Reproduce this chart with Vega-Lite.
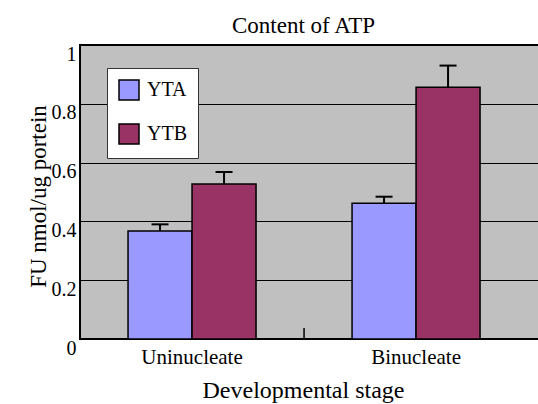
{
  "$schema": "https://vega.github.io/schema/vega-lite/v6.json",
  "width": 459,
  "height": 294,
  "autosize": {"type": "none"},
  "padding": {"left": 80, "top": 45, "right": 0, "bottom": 65},
  "background": "white",
  "title": {"text": "Content of ATP", "font": "Liberation Serif", "fontSize": 23, "fontWeight": "normal", "color": "black", "anchor": "middle", "frame": "group", "baseline": "alphabetic", "offset": 13, "dx": -6, "dy": 25},
  "config": {"view": {"fill": "#C0C0C0", "stroke": "black", "strokeWidth": 2}, "font": "Liberation Serif"},
  "data": {"values": [
    {"stage": "Uninucleate", "strain": "YTA", "value": 0.367, "upper": 0.39},
    {"stage": "Uninucleate", "strain": "YTB", "value": 0.527, "upper": 0.568},
    {"stage": "Binucleate", "strain": "YTA", "value": 0.462, "upper": 0.484},
    {"stage": "Binucleate", "strain": "YTB", "value": 0.856, "upper": 0.93}
  ]},
  "encoding": {
    "x": {"field": "stage", "type": "nominal", "sort": ["Uninucleate", "Binucleate"],
      "scale": {"paddingInner": 0.4286, "paddingOuter": 0.2388, "align": 0.449},
      "axis": {"title": "Developmental stage", "titleFont": "Liberation Serif", "titleFontSize": 24, "titleFontWeight": "normal", "titleColor": "black", "titleX": 223, "titleY": 58, "titleBaseline": "alphabetic", "titleAlign": "center",
        "labelAngle": 0, "labelFont": "Liberation Serif", "labelFontSize": 21, "labelColor": "black", "labelBaseline": "alphabetic", "labelPadding": 24, "ticks": false, "tickSize": 0, "domain": false}}
  },
  "layer": [
    {
      "mark": {"type": "bar", "stroke": "black", "strokeWidth": 1.5},
      "encoding": {
        "xOffset": {"field": "strain", "type": "nominal", "sort": ["YTA", "YTB"], "scale": {"paddingInner": 0, "paddingOuter": 0}},
        "y": {"field": "value", "type": "quantitative", "title": "FU nmol/ug portein", "scale": {"domain": [0, 1], "nice": false},
          "axis": {"values": [0, 0.2, 0.4, 0.6, 0.8, 1], "format": "~g", "ticks": false, "tickSize": 0, "domain": false, "grid": true, "gridColor": "black", "gridWidth": 1, "gridOpacity": 1,
            "labelFont": "Liberation Serif", "labelFontSize": 20, "labelColor": "black", "labelPadding": 4, "labelOffset": 9, "labelBaseline": "middle",
            "titleFont": "Liberation Serif", "titleFontSize": 23, "titleFontWeight": "normal", "titleColor": "black", "titleX": -42, "titleY": 151, "titleAngle": 270, "titleBaseline": "middle", "titleAlign": "center"}},
        "color": {"field": "strain", "type": "nominal", "scale": {"domain": ["YTA", "YTB"], "range": ["#9999FF", "#993366"]},
          "legend": {"orient": "none", "legendX": 27, "legendY": 23, "title": null, "fillColor": "white", "strokeColor": "#333333", "padding": 11, "symbolType": "square", "symbolSize": 400, "symbolStrokeColor": "black", "symbolStrokeWidth": 1.5, "symbolOpacity": 1, "labelFont": "Liberation Serif", "labelFontSize": 20, "labelColor": "black", "labelOffset": 7, "rowPadding": 18}}
      }
    },
    {
      "mark": {"type": "rule", "color": "black", "strokeWidth": 2},
      "encoding": {
        "xOffset": {"field": "strain", "type": "nominal", "sort": ["YTA", "YTB"]},
        "y": {"field": "value", "type": "quantitative", "title": "FU nmol/ug portein"},
        "y2": {"field": "upper"}
      }
    },
    {
      "mark": {"type": "tick", "color": "black", "thickness": 2, "size": 17, "opacity": 1},
      "encoding": {
        "xOffset": {"field": "strain", "type": "nominal", "sort": ["YTA", "YTB"]},
        "y": {"field": "upper", "type": "quantitative", "title": "FU nmol/ug portein"}
      }
    },
    {
      "data": {"values": [{"stage": "Binucleate"}]},
      "mark": {"type": "rule", "color": "black", "strokeWidth": 1.5},
      "encoding": {
        "x": {"field": "stage", "type": "nominal", "bandPosition": -0.375},
        "y": {"datum": 0},
        "y2": {"datum": 0.037}
      }
    }
  ]
}
